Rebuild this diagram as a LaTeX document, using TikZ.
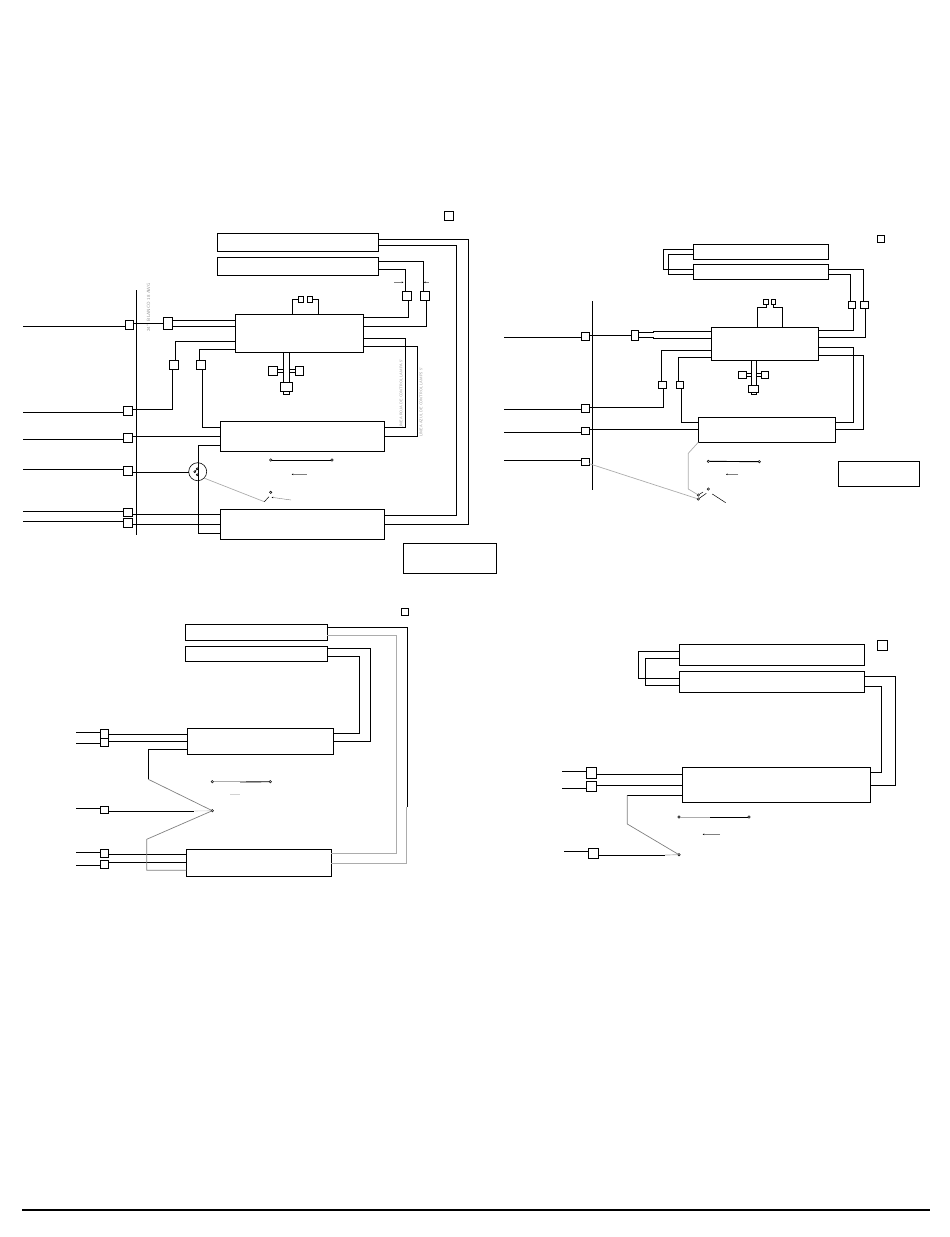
\documentclass[tikz,border=0pt]{standalone}
\usepackage{tikz, xcolor}
\usetikzlibrary{positioning,arrows.meta}

\tikzset{
    box/.style 2 args = {draw, rectangle, line width=0.9pt, inner sep=0pt, outer sep=0pt,
                    minimum width=#1, minimum height=#2},
    dot/.style = {draw, circle, line width=0.5pt, inner sep=0pt, outer sep=0pt, minimum size=2.4pt},
    wire/.style = {line width=0.9pt},
    greywire/.style = {line width=0.7pt, gray!65},
    faint/.style = {line width=0.6pt, gray!35},
    pointer/.style = {line width=0.4pt, gray, -{Stealth[length=1.6pt, width=1.6pt, black]}},
    tinytext/.style = {rotate=90, text=gray!85, inner sep=0pt, font=\sffamily\fontsize{4.6}{5}\selectfont},
    tinnertext/.style = {rotate=90, text=gray!85, inner sep=0pt, font=\sffamily\fontsize{3.8}{5}\selectfont},
}

\begin{document}
\begin{tikzpicture}[x=1pt, y=-1pt]
    \useasboundingbox (0,0) rectangle (950,1237);

    \node[box={161pt}{18pt}] (a1a) at (297.5,242.3) {};
    \node[box={161pt}{18pt}] (a1b) at (297.5,266.3) {};
    \node[box={128pt}{38pt}] (m1) at (299.3,333.3) {};
    \node[box={164pt}{30pt}] (b1) at (302.3,436.3) {};
    \node[box={164pt}{30pt}] (c1) at (302.3,524.3) {};
    \node[box={92.7pt}{30pt}] (note1) at (449.65,558.3) {};
    \node[box={9.4pt}{9pt}] (tag1) at (449,215.8) {};
    \node[box={8.3pt}{9pt}] (s1a) at (129.2,324.8) {};
    \node[box={9.4pt}{12pt}] (s1b) at (168,323.3) {};
    \node[box={9.4pt}{9pt}] (s1c) at (174,364.8) {};
    \node[box={9.4pt}{9pt}] (s1d) at (201,364.8) {};
    \node[box={5.4pt}{6pt}] (s1e) at (301,299.3) {};
    \node[box={5.4pt}{6pt}] (s1f) at (310,299.3) {};
    \node[box={9.4pt}{9.4pt}] (s1g) at (273,371) {};
    \node[box={8.4pt}{9.4pt}] (s1h) at (299.5,371) {};
    \node[box={6pt}{3pt}] (s1j) at (286.3,393.2) {};
    \node[box={12.4pt}{9.4pt}] (s1i) at (286.5,387) {};
    \node[box={9pt}{9pt}] (s1k) at (406.8,295.8) {};
    \node[box={9pt}{9pt}] (s1l) at (424.8,295.8) {};
    \node[box={9.4pt}{9pt}] (s1m) at (128,410.8) {};
    \node[box={9.4pt}{9pt}] (s1n) at (128,437.8) {};
    \node[box={9.4pt}{9pt}] (s1o) at (128,470.8) {};
    \node[box={9.4pt}{8.4pt}] (s1p) at (128,512.5) {};
    \node[box={9.4pt}{9.4pt}] (s1q) at (128,523) {};
    \node[draw, circle, line width=0.6pt, inner sep=0pt, outer sep=0pt, minimum size=18pt] (circ1) at (197.7,471.7) {};
    \node[dot] (d1a) at (270.7,460) {};
    \node[dot] (d1b) at (332,460) {};
    \node[dot] (d1c) at (270.7,492.3) {};
    \node[dot, minimum size=2pt] (d1d) at (197.3,468.7) {};
    \node[dot, minimum size=2pt] (d1e) at (194.7,471.7) {};
    \node[dot, minimum size=2pt] (d1f) at (197.3,474.7) {};
    \node[tinytext] (lbl1) at (148.5,307.5) {24" \ BLANCO 18 AWG};
    \node[tinnertext] (lbl2) at (401,394) {LINEA ROJA DE CONTROL LAMPA 5'};
    \node[tinnertext] (lbl3) at (421,402) {LINEA AZUL DE CONTROL LAMPS 5'};

    \coordinate (edge1) at (23,0);
    \coordinate (bus1a) at (136.5,290);
    \coordinate (bus1b) at (136.5,534.5);
    \coordinate (q1a) at (291.7,474.3);
    \coordinate (q1b) at (306.7,474.3);
    \coordinate (q1c) at (271.7,497.3);
    \coordinate (q1d) at (291,500);
    \coordinate (q1e) at (394,282.3);
    \coordinate (q1f) at (403.3,282.3);
    \coordinate (q1g) at (428.7,282.3);
    \coordinate (q1h) at (424,282.3);
    \draw[wire] (bus1a) -- (bus1b);
    \draw[wire] (s1a.west |- 0,326.3) -- (edge1 |- 0,326.3);
    \draw[wire] (s1m.west |- 0,412.3) -- (edge1 |- 0,412.3);
    \draw[wire] (s1n.west |- 0,439.3) -- (edge1 |- 0,439.3);
    \draw[wire] (s1o.west |- 0,469.3) -- (edge1 |- 0,469.3);
    \draw[wire] (s1p.west |- 0,511.3) -- (edge1 |- 0,511.3);
    \draw[wire] (s1q.west |- 0,521.3) -- (edge1 |- 0,521.3);
    \draw[wire] (s1a.east |- 0,323.3) -- (s1b.west |- 0,323.3);
    \draw[wire] (s1b.east |- 0,320.3) -- (m1.west |- 0,320.3);
    \draw[wire] (s1b.east |- 0,326.3) -- (m1.west |- 0,326.3);
    \draw[wire] (m1.west |- 0,341.3) -| (s1c.north -| 175.7,0);
    \draw[wire] (s1c.south -| 172.7,0) |- (s1m.east |- 0,409.3);
    \draw[wire] (m1.west |- 0,349.3) -| (s1d.north -| 199.7,0);
    \draw[wire] (s1d.south -| 202.3,0) |- (b1.west |- 0,427.3);
    \draw[wire] (s1n.east |- 0,436.3) -- (b1.west |- 0,436.3);
    \draw[wire] (s1o.east |- 0,472.3) -- (circ1.west |- 0,472.3);
    \draw[wire] (b1.west |- 0,445.3) -| (198.3,533.3) -- (c1.west |- 0,533.3);
    \draw[wire] (s1p.east |- 0,514.3) -- (c1.west |- 0,514.3);
    \draw[wire] (s1q.east |- 0,524.3) -- (c1.west |- 0,524.3);
    \draw[wire] (m1.north -| 292.7,0) |- (s1e.west |- 0,299.3);
    \draw[wire] (s1f.east |- 0,299.3) -| (m1.north -| 318.3,0);
    \draw[wire] (m1.south -| 283.7,0) -- (s1i.north -| 283.7,0);
    \draw[wire] (m1.south -| 289,0) -- (s1i.north -| 289,0);
    \draw[wire] (s1g.east |- 0,369.3) -- (283.7,369.3);
    \draw[wire] (s1g.east |- 0,372.3) -- (283.7,372.3);
    \draw[wire] (s1h.west |- 0,369.3) -- (289,369.3);
    \draw[wire] (s1h.west |- 0,372.3) -- (289,372.3);
    \draw[wire] (a1a.east |- 0,239.3) -| (468.3,524.3) -- (c1.east |- 0,524.3);
    \draw[wire] (a1a.east |- 0,245.3) -| (456.3,515.3) -- (c1.east |- 0,515.3);
    \draw[wire] (a1b.east |- 0,261.3) -| (s1l.north -| 423.3,0);
    \draw[wire] (a1b.east |- 0,269.3) -| (s1k.north -| 405.3,0);
    \draw[wire] (s1l.south -| 426.3,0) |- (m1.east |- 0,326.3);
    \draw[wire] (s1k.south -| 408.3,0) |- (m1.east |- 0,317.3);
    \draw[wire] (m1.east |- 0,338.3) -| (405.3,427.3) -- (b1.east |- 0,427.3);
    \draw[wire] (m1.east |- 0,346.3) -| (417.3,436.3) -- (b1.east |- 0,436.3);
    \draw[wire] (d1a) -- (d1b);
    \draw[line width=0.5pt] (d1e) -- (d1d);
    \draw[greywire] (circ1.-45) -- (264.3,501.7);
    \draw[line width=0.5pt] (264.3,501.7) -- (269,496.7);
    \draw[pointer] (q1b) -- (q1a);
    \draw[pointer] (q1d) -- (q1c);
    \draw[pointer] (q1e) -- (q1f);
    \draw[pointer] (q1g) -- (q1h);

    \node[box={135pt}{15pt}] (a2a) at (760.8,251.8) {};
    \node[box={135pt}{15pt}] (a2b) at (760.8,271.8) {};
    \node[box={107pt}{33pt}] (m2) at (764.8,343.8) {};
    \node[box={137.4pt}{25pt}] (b2) at (767,429.8) {};
    \node[box={81.4pt}{25pt}] (note2) at (879,473.8) {};
    \node[box={7.4pt}{7.4pt}] (tag2) at (881,239) {};
    \node[box={8pt}{8pt}] (s2a) at (585.3,336.3) {};
    \node[box={7.4pt}{10pt}] (s2b) at (635,335.3) {};
    \node[box={8.4pt}{7.4pt}] (s2c) at (662.5,385) {};
    \node[box={7.4pt}{7.4pt}] (s2d) at (680,385) {};
    \node[box={5.4pt}{5.4pt}] (s2e) at (766,302) {};
    \node[box={4.7pt}{5.4pt}] (s2f) at (773.3,302) {};
    \node[box={8.4pt}{7.4pt}] (s2g) at (742.5,375) {};
    \node[box={7.4pt}{7.4pt}] (s2h) at (765,375) {};
    \node[box={5.4pt}{2pt}] (s2j) at (754,393.7) {};
    \node[box={10.4pt}{7.4pt}] (s2i) at (753.5,389) {};
    \node[box={7.4pt}{7.4pt}] (s2k) at (852,305) {};
    \node[box={8.4pt}{7.4pt}] (s2l) at (864.5,305) {};
    \node[box={8pt}{8pt}] (s2m) at (585.3,408.3) {};
    \node[box={8pt}{7.4pt}] (s2n) at (585.3,431) {};
    \node[box={8pt}{7.4pt}] (s2o) at (585.3,461.7) {};
    \node[dot] (d2a) at (708.3,461.3) {};
    \node[dot] (d2b) at (759.3,461.7) {};
    \node[dot] (d2c) at (698.3,495) {};
    \node[dot] (d2d) at (698.3,499) {};
    \node[dot] (d2e) at (708.3,489) {};

    \coordinate (edge2) at (504,0);
    \coordinate (bus2a) at (592.3,301);
    \coordinate (bus2b) at (592.3,490);
    \coordinate (q2a) at (726,474.3);
    \coordinate (q2b) at (738.3,474.3);
    \coordinate (q2c) at (712.3,494);
    \coordinate (q2d) at (725.7,502.7);
    \draw[wire] (bus2a) -- (bus2b);
    \draw[wire] (s2a.west |- 0,337.3) -- (edge2 |- 0,337.3);
    \draw[wire] (s2m.west |- 0,409.3) -- (edge2 |- 0,409.3);
    \draw[wire] (s2n.west |- 0,432.3) -- (edge2 |- 0,432.3);
    \draw[wire] (s2o.west |- 0,460.3) -- (edge2 |- 0,460.3);
    \draw[wire] (s2a.east |- 0,335.3) -- (s2b.west |- 0,335.3);
    \draw[wire] (s2b.east |- 0,332.7) -- (653.3,332.7) -- (653.3,331.3) -- (m2.west |- 0,331.3);
    \draw[wire] (s2b.east |- 0,337.3) -- (653.3,337.3) -- (653.3,338.7) -- (m2.west |- 0,338.7);
    \draw[wire] (m2.west |- 0,350.3) -| (s2c.north -| 661.3,0);
    \draw[wire] (s2c.south -| 663.3,0) |- (s2m.east |- 0,407.3);
    \draw[wire] (m2.west |- 0,357.3) -| (s2d.north -| 678.3,0);
    \draw[wire] (s2d.south -| 681.3,0) |- (b2.west |- 0,422.3);
    \draw[wire] (s2n.east |- 0,429.3) -- (b2.west |- 0,429.3);
    \draw[wire] (m2.east |- 0,347.3) -| (853.3,422.3) -- (b2.east |- 0,422.3);
    \draw[wire] (m2.east |- 0,355.3) -| (863.3,429.3) -- (b2.east |- 0,429.3);
    \draw[wire] (a2a.west |- 0,249.3) -| (663.3,269.3) -- (a2b.west |- 0,269.3);
    \draw[wire] (a2a.west |- 0,254.3) -| (668.3,274.3) -- (a2b.west |- 0,274.3);
    \draw[wire] (a2b.east |- 0,269.3) -| (s2l.north -| 863.3,0);
    \draw[wire] (a2b.east |- 0,274.3) -| (s2k.north -| 850.3,0);
    \draw[wire] (s2l.south -| 865.7,0) |- (m2.east |- 0,337.3);
    \draw[wire] (s2k.south -| 853.3,0) |- (m2.east |- 0,330.3);
    \draw[wire] (m2.north -| 757.3,0) |- (766.3,307.3) -- (s2e.south -| 766.3,0);
    \draw[wire] (s2f.south -| 773.3,0) |- (782.3,307.3) -- (m2.north -| 782.3,0);
    \draw[wire] (m2.south -| 751.3,0) -- (s2i.north -| 751.3,0);
    \draw[wire] (m2.south -| 756.7,0) -- (s2i.north -| 756.7,0);
    \draw[wire] (s2g.east |- 0,373.3) -- (751.3,373.3);
    \draw[wire] (s2g.east |- 0,376.7) -- (751.3,376.7);
    \draw[wire] (s2h.west |- 0,373.3) -- (756.7,373.3);
    \draw[wire] (s2h.west |- 0,376.7) -- (756.7,376.7);
    \draw[wire] (d2a) -- (d2b);
    \draw[greywire] (s2o.east |- 0,463.7) -- (d2d);
    \draw[greywire] (b2.south west) -- (688.3,453.3) -- (688.3,489) -- (d2c);
    \draw[line width=0.5pt] (d2d) -- (706.3,493.3);
    \draw[line width=0.5pt] (d2c) -- (703,492);
    \draw[pointer] (q2b) -- (q2a);
    \draw[line width=0.5pt] (q2c) -- (q2d);

    \node[box={142pt}{16pt}] (a3a) at (256.3,632.3) {};
    \node[box={142pt}{15pt}] (a3b) at (256.3,653.8) {};
    \node[box={146pt}{26pt}] (m3) at (260.3,741.3) {};
    \node[box={145pt}{27pt}] (c3) at (258.8,862.8) {};
    \node[box={7.4pt}{7.4pt}] (tag3) at (405,612) {};
    \node[box={8.4pt}{8.7pt}] (s3a) at (104.5,733.6) {};
    \node[box={8.4pt}{8.7pt}] (s3b) at (104.5,742.3) {};
    \node[box={8.4pt}{7.4pt}] (s3c) at (104.5,810) {};
    \node[box={8.4pt}{8.4pt}] (s3d) at (104.5,853.5) {};
    \node[box={8.4pt}{8.4pt}] (s3e) at (104.5,864.5) {};
    \node[dot] (d3a) at (212.3,781.7) {};
    \node[dot] (d3b) at (270.3,781.7) {};
    \node[dot] (d3c) at (212.3,810.7) {};

    \coordinate (edge3) at (76,0);
    \coordinate (q3a) at (230,794.7);
    \coordinate (q3b) at (240,794.7);
    \draw[wire] (s3a.west |- 0,732.3) -- (edge3 |- 0,732.3);
    \draw[wire] (s3b.west |- 0,743.3) -- (edge3 |- 0,743.3);
    \draw[wire] (s3c.west |- 0,808.3) -- (edge3 |- 0,808.3);
    \draw[wire] (s3d.west |- 0,852.3) -- (edge3 |- 0,852.3);
    \draw[wire] (s3e.west |- 0,865.3) -- (edge3 |- 0,865.3);
    \draw[wire] (s3a.east |- 0,734.3) -- (m3.west |- 0,734.3);
    \draw[wire] (s3b.east |- 0,741.3) -- (m3.west |- 0,741.3);
    \draw[wire] (s3c.east |- 0,811) -- (194.3,811);
    \draw[faint] (194.3,811) -- (d3c);
    \draw[wire] (s3d.east |- 0,854.3) -- (c3.west |- 0,854.3);
    \draw[wire] (s3e.east |- 0,862.3) -- (c3.west |- 0,862.3);
    \draw[wire] (m3.west |- 0,749.3) -| (148.3,779.3);
    \draw[greywire, gray] (148.3,779.3) -- (d3c) -- (146.7,839.3) -- (146.7,870.3) -- (c3.west |- 0,870.3);
    \draw[wire] (a3a.east |- 0,627.3) -| (407.3,806.7);
    \draw[greywire, line width=0.9pt] (406.7,806.7) -- (406.7,863.3) -- (c3.east |- 0,863.3);
    \draw[greywire, line width=0.9pt] (a3a.east |- 0,635) -| (396.3,853.3) -- (c3.east |- 0,853.3);
    \draw[wire] (a3b.east |- 0,648.7) -| (370.3,741.3) -- (m3.east |- 0,741.3);
    \draw[wire] (a3b.east |- 0,656.3) -| (359.3,733.3) -- (m3.east |- 0,733.3);
    \draw[greywire] (d3a) -- (240,781.7);
    \draw[wire] (240,782) -- (d3b);
    \draw[faint, line width=0.9pt] (q3a) -- (q3b);

    \node[box={185pt}{21pt}] (a4a) at (771.8,654.8) {};
    \node[box={185pt}{21pt}] (a4b) at (771.8,681.8) {};
    \node[box={188pt}{35pt}] (m4) at (776.3,784.8) {};
    \node[box={10.4pt}{10.4pt}] (tag4) at (882.5,645.5) {};
    \node[box={10.4pt}{11pt}] (s4a) at (591.5,772.8) {};
    \node[box={10.4pt}{10pt}] (s4b) at (591.5,786.3) {};
    \node[box={10.4pt}{10.4pt}] (s4c) at (593.5,853.5) {};
    \node[dot] (d4a) at (679,817) {};
    \node[dot] (d4b) at (749,817) {};
    \node[dot] (d4c) at (679,854.7) {};

    \coordinate (edge4) at (562,0);
    \coordinate (edge4c) at (563.7,0);
    \coordinate (q4a) at (702.7,834.3);
    \coordinate (q4b) at (720,834.3);
    \draw[wire] (s4a.west |- 0,771.3) -- (edge4 |- 0,771.3);
    \draw[wire] (s4b.west |- 0,788.3) -- (edge4 |- 0,788.3);
    \draw[wire] (s4c.west |- 0,851.3) -- (edge4c |- 0,851.3);
    \draw[wire] (s4a.east |- 0,774.3) -- (m4.west |- 0,774.3);
    \draw[wire] (s4b.east |- 0,785.3) -- (m4.west |- 0,785.3);
    \draw[wire] (s4c.east |- 0,855.3) -- (665,855.3);
    \draw[greywire] (665,855) -- (d4c);
    \draw[wire] (m4.west |- 0,795.3) -- (627.3,795.3);
    \draw[greywire, gray] (627.3,795.3) -- (627.3,824) -- (d4c);
    \draw[wire] (a4a.west |- 0,651.3) -| (638.3,678.3) -- (a4b.west |- 0,678.3);
    \draw[wire] (a4a.west |- 0,658.3) -| (645.3,685.3) -- (a4b.west |- 0,685.3);
    \draw[wire] (a4b.east |- 0,676.3) -| (895.3,785.3) -- (m4.east |- 0,785.3);
    \draw[wire] (a4b.east |- 0,686.3) -| (881.3,772.3) -- (m4.east |- 0,772.3);
    \draw[greywire] (d4a) -- (710,817);
    \draw[wire] (710,817) -- (d4b);
    \draw[pointer] (q4b) -- (q4a);

    \coordinate (foot1) at (22,1210);
    \coordinate (foot2) at (930,1210);
    \draw[line width=1.5pt] (foot1) -- (foot2);
\end{tikzpicture}
\end{document}
